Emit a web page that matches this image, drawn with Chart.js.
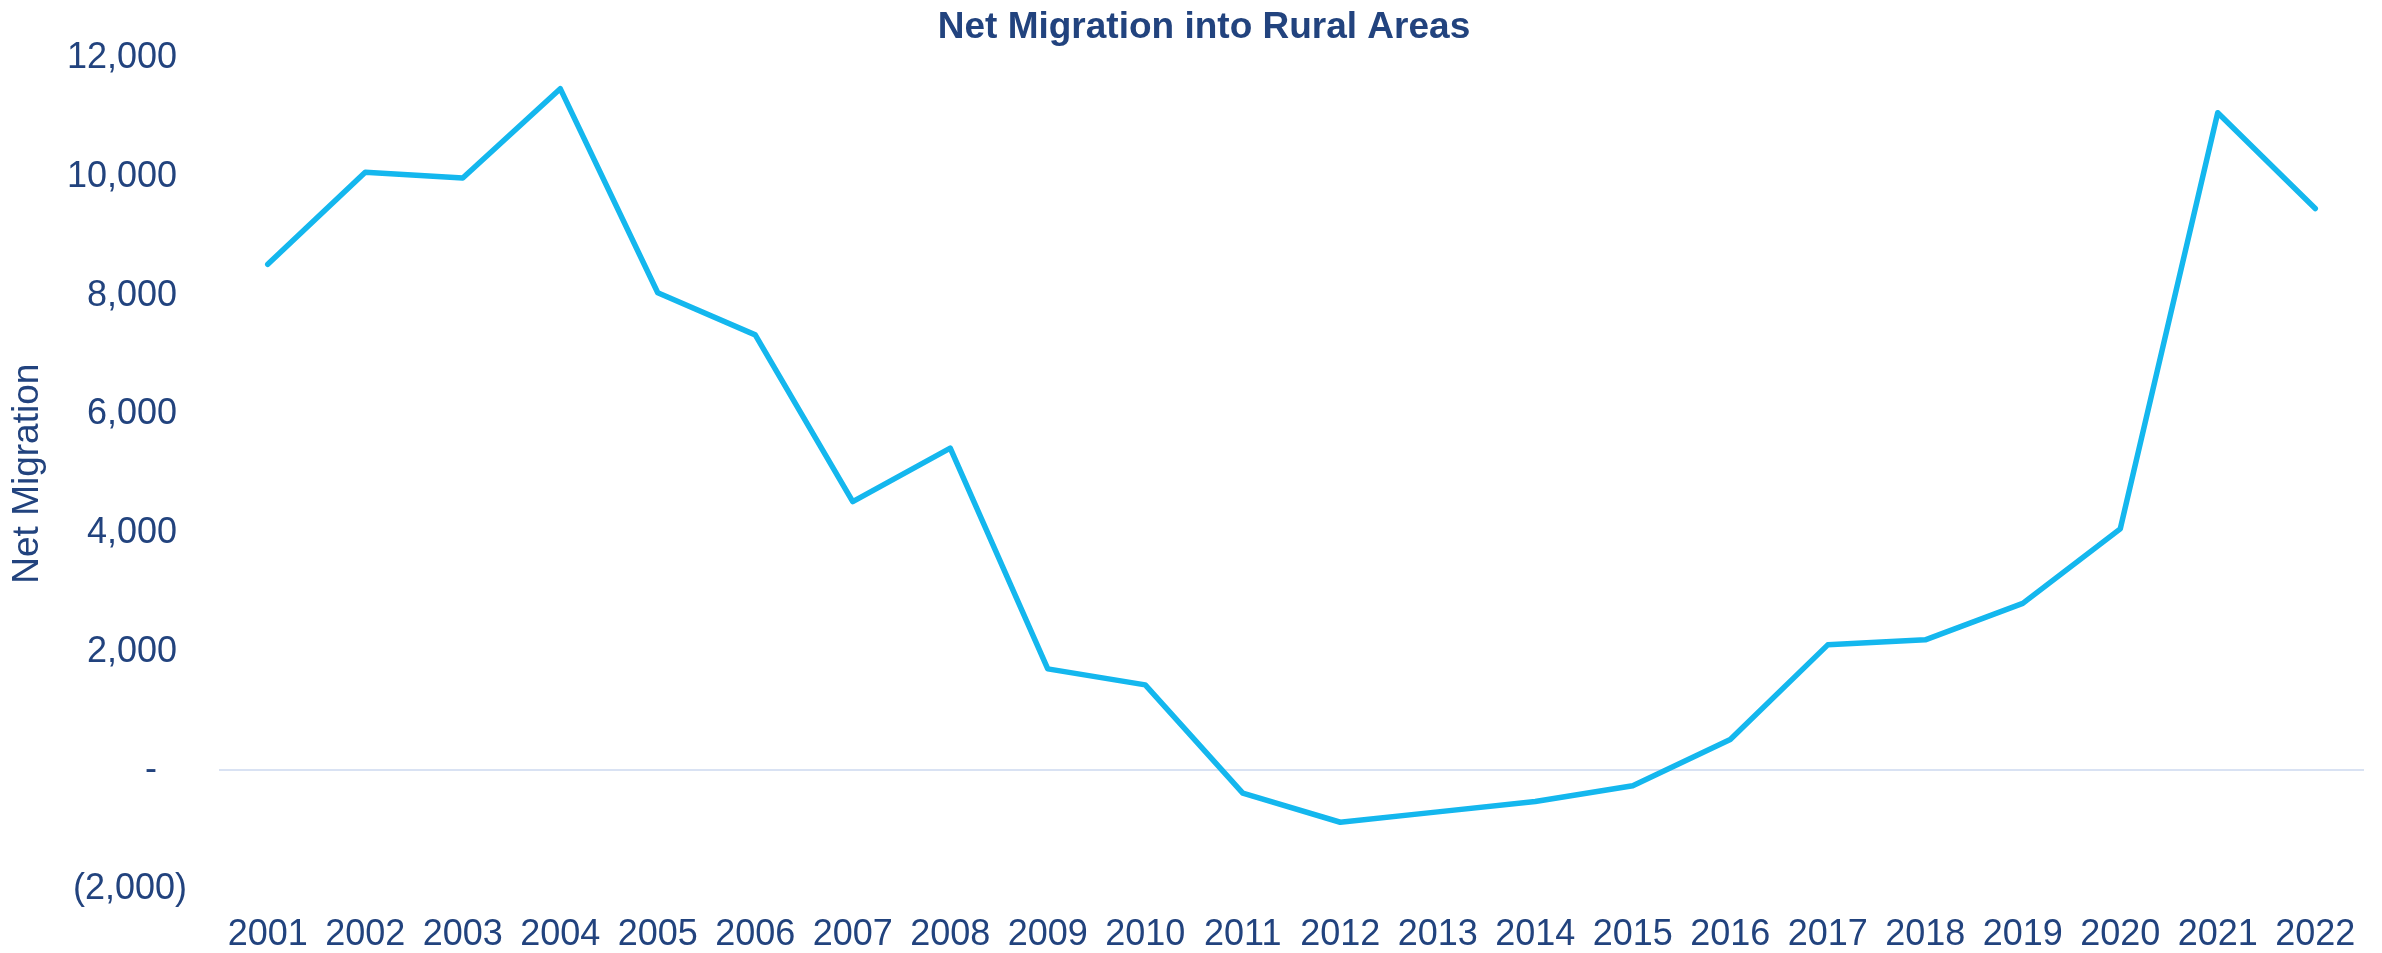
<!DOCTYPE html>
<html>
<head>
<meta charset="utf-8">
<title>Net Migration into Rural Areas</title>
<script src="https://cdn.jsdelivr.net/npm/chart.js@4/dist/chart.umd.min.js"></script>
<style>
  html, body { margin: 0; padding: 0; background: #ffffff; }
  #wrap { width: 2382px; height: 953px; position: relative; }
</style>
</head>
<body>
<div id="wrap"><canvas id="chart" width="2382" height="953"></canvas></div>
<script>
// Years on the horizontal axis
const years = ['2001', '2002', '2003', '2004', '2005', '2006', '2007', '2008', '2009', '2010', '2011',
               '2012', '2013', '2014', '2015', '2016', '2017', '2018', '2019', '2020', '2021', '2022'];

// Net migration into rural areas, persons per year
const netMigration = [8530, 10080, 9985, 11490, 8050, 7340, 4530, 5430, 1710, 1440, -385,
                      -875, -700, -525, -260, 520, 2115, 2200, 2815, 4070, 11085, 9470];

// Value axis range and spacing
const yMin = -2000;
const yMax = 12000;
const yStep = 2000;

const navy = '#22437E';
const lineBlue = '#14B7EE';
const zeroLine = '#D9E2F3';
const fontFamily = '"Liberation Sans", Arial, sans-serif';

// Accounting-style labels: (2,000) for negatives, "-" for zero
function accounting(v) {
  if (v === 0) return '-   ';
  const s = Math.abs(v).toLocaleString('en-US');
  return v < 0 ? '(' + s + ')' : s + ' ';
}

// Nudge the chart title a little to the right of the canvas centre
const titleShift = {
  id: 'titleShift',
  afterLayout(chart) {
    const t = chart.titleBlock;
    if (t) { t.left += 22; t.right += 22; }
  }
};

new Chart(document.getElementById('chart'), {
  type: 'line',
  data: {
    labels: years,
    datasets: [{
      label: 'Net Migration',
      data: netMigration,
      borderColor: lineBlue,
      backgroundColor: lineBlue,
      borderWidth: 5.5,
      borderJoinStyle: 'round',
      borderCapStyle: 'round',
      pointRadius: 0,
      pointHoverRadius: 0,
      tension: 0,
      fill: false
    }]
  },
  plugins: [titleShift],
  options: {
    responsive: false,
    devicePixelRatio: 1,
    animation: false,
    layout: { padding: { left: 0, right: 18, top: 0, bottom: 0 } },
    plugins: {
      legend: { display: false },
      tooltip: { enabled: false },
      title: {
        display: true,
        text: 'Net Migration into Rural Areas',
        color: navy,
        font: { family: fontFamily, size: 37, weight: 'bold', lineHeight: 1.2 },
        padding: { top: 6, bottom: 8 }
      }
    },
    scales: {
      x: {
        type: 'category',
        offset: true,
        grid: { display: false, drawTicks: false },
        border: { display: false },
        ticks: {
          color: navy,
          font: { family: fontFamily, size: 36 },
          padding: 24,
          maxRotation: 0,
          autoSkip: false
        },
        afterFit(axis) { axis.height = 64; }
      },
      y: {
        min: yMin,
        max: yMax,
        grid: {
          drawTicks: false,
          lineWidth: 2,
          color: ctx => (ctx.tick && ctx.tick.value === 0 ? zeroLine : 'rgba(0,0,0,0)')
        },
        border: { display: false },
        ticks: {
          stepSize: yStep,
          color: navy,
          padding: 32,
          font: { family: fontFamily, size: 36 },
          callback: v => accounting(v)
        },
        title: {
          display: true,
          text: 'Net Migration',
          color: navy,
          font: { family: fontFamily, size: 37, lineHeight: 1.2 },
          padding: { top: 6, bottom: 0 }
        },
        afterFit(axis) { axis.width = 219; }
      }
    }
  }
});
</script>
</body>
</html>
